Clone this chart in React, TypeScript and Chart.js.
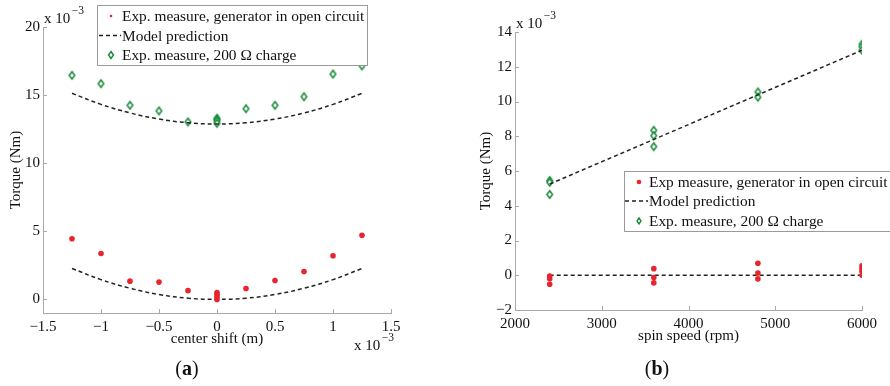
import React, { useEffect, useRef } from "react";
import { Chart, registerables } from "chart.js";

Chart.register(...registerables);

const FONT = '"Liberation Serif", "Times New Roman", serif';
const RED = "#e8242c";
const GREEN = "#168a38";
const AXIS = "#a9a9a9";
const TEXT = "#111111";
const MODEL = "#222222";

// Panel (a): torque vs. center shift, both axes in units of 1e-3
const shiftOpenX = [-1.25, -1, -0.75, -0.5, -0.25, 0, 0, 0, 0, 0.25, 0.5, 0.75, 1, 1.25];
const shiftOpenTorque = [4.45, 3.37, 1.34, 1.27, 0.64, 0.5, 0.35, 0.2, 0.0, 0.8, 1.39, 2.05, 3.2, 4.71];
const shiftLoadX = [-1.25, -1, -0.75, -0.5, -0.25, 0, 0, 0, 0, 0.25, 0.5, 0.75, 1, 1.25];
const shiftLoadTorque = [16.45, 15.84, 14.25, 13.84, 13.03, 13.3, 13.2, 13.1, 12.93, 14.0, 14.25, 14.88, 16.54, 17.15];
const shiftModelX = [-1.25, -1, -0.75, -0.5, -0.25, 0, 0.25, 0.5, 0.75, 1, 1.25];
const shiftModelOpen = [2.27, 1.45, 0.82, 0.36, 0.09, 0, 0.09, 0.36, 0.82, 1.45, 2.27];
const shiftModelLoad = [15.13, 14.32, 13.69, 13.24, 12.97, 12.88, 12.97, 13.24, 13.69, 14.32, 15.13];
const shiftTicksX = [-1.5, -1, -0.5, 0, 0.5, 1, 1.5];
const shiftTicksY = [0, 5, 10, 15, 20];

// Panel (b): torque vs. spin speed, torque in units of 1e-3
const speedOpenX = [2400, 2400, 2400, 3600, 3600, 3600, 4800, 4800, 4800, 6000, 6000, 6000, 6000];
const speedOpenTorque = [-0.05, -0.2, -0.52, 0.38, -0.13, -0.44, 0.69, 0.13, -0.21, 0.54, 0.38, 0.23, 0.0];
const speedLoadX = [2400, 2400, 2400, 3600, 3600, 3600, 4800, 4800, 6000, 6000, 6000];
const speedLoadTorque = [5.45, 5.35, 4.65, 8.34, 8.03, 7.4, 10.55, 10.25, 13.3, 13.15, 12.95];
const speedModelX = [2400, 6000];
const speedModelOpen = [0, 0];
const speedModelLoad = [5.25, 12.95];
const speedTicksX = [2000, 3000, 4000, 5000, 6000];
const speedTicksY = [-2, 0, 2, 4, 6, 8, 10, 12, 14];

const legendTextA = [
  "Exp. measure, generator in open circuit",
  "Model prediction",
  "Exp. measure, 200 \u03a9 charge",
];
const legendTextB = [
  "Exp measure, generator in open circuit",
  "Model prediction",
  "Exp. measure, 200 \u03a9 charge",
];

const pts = (xs: number[], ys: number[]) => xs.map((x, i) => ({ x, y: ys[i] }));
const minus = (v: number | string) => String(v).replace("-", "\u2212");

function drawDiamond(ctx: CanvasRenderingContext2D, x: number, y: number, w: number, h: number, lw: number) {
  ctx.save();
  ctx.beginPath();
  ctx.moveTo(x, y - h / 2);
  ctx.lineTo(x + w / 2, y);
  ctx.lineTo(x, y + h / 2);
  ctx.lineTo(x - w / 2, y);
  ctx.closePath();
  ctx.fillStyle = "#fff";
  ctx.fill();
  ctx.lineWidth = lw;
  ctx.strokeStyle = GREEN;
  ctx.stroke();
  ctx.restore();
}

function diamondImage(w: number, h: number, lw: number) {
  const c = document.createElement("canvas");
  c.width = Math.ceil(w + lw * 2 + 2);
  c.height = Math.ceil(h + lw * 2 + 2);
  drawDiamond(c.getContext("2d")!, c.width / 2, c.height / 2, w, h, lw);
  return c;
}

type Decor = {
  legend: { x: number; y: number; w: number; h: number; rows: number[]; markX: number; textX: number; dash: [number, number]; dot: number; dia: [number, number]; text: string[]; font: number };
  expTop: [number, number];
  expBottom?: [number, number];
  panel: [string, number, number];
};

function decorPlugin(d: Decor) {
  return {
    id: "decor",
    afterDraw(chart: any) {
      const ctx: CanvasRenderingContext2D = chart.ctx;
      const { left, bottom } = chart.chartArea;
      const xs = chart.scales.x;
      const ys = chart.scales.y;
      ctx.save();
      // inward tick marks
      ctx.strokeStyle = AXIS;
      ctx.lineWidth = 1;
      ctx.beginPath();
      xs.ticks.forEach((t: any) => {
        const px = Math.round(xs.getPixelForValue(t.value)) + 0.5;
        if (px - left < 2) return;
        ctx.moveTo(px, bottom);
        ctx.lineTo(px, bottom - 4);
      });
      ys.ticks.forEach((t: any) => {
        const py = Math.round(ys.getPixelForValue(t.value)) + 0.5;
        if (bottom - py < 2) return;
        ctx.moveTo(left, py);
        ctx.lineTo(left + 4, py);
      });
      ctx.stroke();

      // scale exponent labels
      const exp = (x: number, y: number) => {
        ctx.fillStyle = TEXT;
        ctx.textAlign = "left";
        ctx.textBaseline = "middle";
        ctx.font = `15px ${FONT}`;
        ctx.fillText("x 10", x, y);
        const w = ctx.measureText("x 10").width;
        ctx.font = `11.5px ${FONT}`;
        ctx.fillText("\u22123", x + w + 1.5, y - 8);
      };
      exp(d.expTop[0], d.expTop[1]);
      if (d.expBottom) exp(d.expBottom[0], d.expBottom[1]);

      // legend box
      const L = d.legend;
      ctx.fillStyle = "#fff";
      ctx.fillRect(L.x, L.y, L.w, L.h);
      ctx.strokeStyle = "#9a9a9a";
      ctx.lineWidth = 1;
      ctx.strokeRect(L.x + 0.5, L.y + 0.5, L.w, L.h);
      ctx.fillStyle = RED;
      ctx.beginPath();
      ctx.arc(L.markX, L.rows[0], L.dot, 0, Math.PI * 2);
      ctx.fill();
      ctx.strokeStyle = MODEL;
      ctx.lineWidth = 1.4;
      ctx.setLineDash([4, 3]);
      ctx.beginPath();
      ctx.moveTo(L.dash[0], L.rows[1]);
      ctx.lineTo(L.dash[1], L.rows[1]);
      ctx.stroke();
      ctx.setLineDash([]);
      drawDiamond(ctx, L.markX, L.rows[2], L.dia[0], L.dia[1], 1.4);
      ctx.fillStyle = TEXT;
      ctx.font = `${L.font}px ${FONT}`;
      ctx.textAlign = "left";
      ctx.textBaseline = "middle";
      L.text.forEach((s, i) => ctx.fillText(s, L.textX, L.rows[i] + 1));

      // panel label: "(", bold letter, ")"
      const [letter, cx, cy] = d.panel;
      ctx.font = `20px ${FONT}`;
      const wp = ctx.measureText("(").width;
      ctx.font = `bold 20px ${FONT}`;
      const wl = ctx.measureText(letter).width;
      const x0 = cx - (wp * 2 + wl) / 2;
      ctx.font = `20px ${FONT}`;
      ctx.fillText("(", x0, cy);
      ctx.font = `bold 20px ${FONT}`;
      ctx.fillText(letter, x0 + wp, cy);
      ctx.font = `20px ${FONT}`;
      ctx.fillText(")", x0 + wp + wl, cy);
      ctx.restore();
    },
  };
}

type PanelCfg = {
  open: { x: number; y: number }[];
  load: { x: number; y: number }[];
  modelOpen: { x: number; y: number }[];
  modelLoad: { x: number; y: number }[];
  tension: number;
  xRange: [number, number];
  yRange: [number, number];
  xTicks: number[];
  yTicks: number[];
  xTitle: string;
  area: { left: number; right: number; top: number; bottom: number };
  yTitlePad: number;
  xTitlePad: number;
  decor: Decor;
};

const W = 445;
const H = 386;

function makeChart(canvas: HTMLCanvasElement, c: PanelCfg) {
  const diamond = diamondImage(5.5, 7.5, 1.5);
  const tickFont = { family: FONT, size: 15 };
  const modelStyle = {
    showLine: true,
    pointRadius: 0,
    borderColor: MODEL,
    borderWidth: 1.5,
    borderDash: [4, 3],
    tension: c.tension,
    fill: false,
  };
  return new Chart(canvas, {
    type: "scatter",
    data: {
      datasets: [
        { data: c.open, pointStyle: "circle", pointRadius: 2.8, backgroundColor: RED, borderWidth: 0 },
        { ...modelStyle, data: c.modelOpen },
        { ...modelStyle, data: c.modelLoad },
        { data: c.load, pointStyle: diamond as any, pointRadius: 4, borderWidth: 0 },
      ] as any,
    },
    options: {
      responsive: false,
      animation: false,
      events: [],
      layout: { padding: { left: 0, top: c.area.top, right: W - c.area.right, bottom: 0 } },
      plugins: { legend: { display: false }, tooltip: { enabled: false } },
      scales: {
        x: {
          type: "linear",
          min: c.xRange[0],
          max: c.xRange[1],
          afterBuildTicks: (s: any) => {
            s.ticks = c.xTicks.map((v) => ({ value: v }));
          },
          afterFit: (s: any) => {
            s.height = H - c.area.bottom;
          },
          grid: { display: false, drawTicks: false },
          border: { display: true, color: AXIS, width: 1 },
          ticks: { padding: 5, color: TEXT, font: tickFont, maxRotation: 0, autoSkip: false, callback: (v: any) => minus(v) },
          title: { display: true, text: c.xTitle, color: TEXT, font: tickFont, padding: { top: 0, bottom: c.xTitlePad } },
        },
        y: {
          type: "linear",
          min: c.yRange[0],
          max: c.yRange[1],
          afterBuildTicks: (s: any) => {
            s.ticks = c.yTicks.map((v) => ({ value: v }));
          },
          afterFit: (s: any) => {
            s.width = c.area.left;
          },
          grid: { display: false, drawTicks: false },
          border: { display: true, color: AXIS, width: 1 },
          ticks: { padding: 3, color: TEXT, font: tickFont, autoSkip: false, callback: (v: any) => minus(v) },
          title: { display: true, text: "Torque (Nm)", color: TEXT, font: tickFont, padding: { top: c.yTitlePad, bottom: 0 } },
        },
      },
    } as any,
    plugins: [decorPlugin(c.decor)],
  });
}

const panelA: PanelCfg = {
  open: pts(shiftOpenX, shiftOpenTorque),
  load: pts(shiftLoadX, shiftLoadTorque),
  modelOpen: pts(shiftModelX, shiftModelOpen),
  modelLoad: pts(shiftModelX, shiftModelLoad),
  tension: 0.4,
  xRange: [-1.5, 1.5],
  yRange: [-1, 20],
  xTicks: shiftTicksX,
  yTicks: shiftTicksY,
  xTitle: "center shift (m)",
  area: { left: 43, right: 391, top: 27, bottom: 313 },
  yTitlePad: 7,
  xTitlePad: 38,
  decor: {
    legend: { x: 97, y: 5, w: 270, h: 60, rows: [16, 35.5, 55], markX: 111, textX: 122, dash: [99, 121], dot: 1.3, dia: [5, 7], text: legendTextA, font: 15.4 },
    expTop: [44, 19],
    expBottom: [354, 346],
    panel: ["a", 187, 370],
  },
};

const panelB: PanelCfg = {
  open: pts(speedOpenX, speedOpenTorque),
  load: pts(speedLoadX, speedLoadTorque),
  modelOpen: pts(speedModelX, speedModelOpen),
  modelLoad: pts(speedModelX, speedModelLoad),
  tension: 0,
  xRange: [2000, 6000],
  yRange: [-2, 14],
  xTicks: speedTicksX,
  yTicks: speedTicksY,
  xTitle: "spin speed (rpm)",
  area: { left: 70, right: 417, top: 32, bottom: 310 },
  yTitlePad: 32,
  xTitlePad: 41,
  decor: {
    legend: { x: 179, y: 171, w: 280, h: 60, rows: [182, 201, 221], markX: 194, textX: 204, dash: [180, 203], dot: 2.3, dia: [4, 6], text: legendTextB, font: 15.4 },
    expTop: [71, 24],
    panel: ["b", 212, 370],
  },
};

export default function App() {
  const refA = useRef<HTMLCanvasElement>(null);
  const refB = useRef<HTMLCanvasElement>(null);
  useEffect(() => {
    const a = makeChart(refA.current!, panelA);
    const b = makeChart(refB.current!, panelB);
    return () => {
      a.destroy();
      b.destroy();
    };
  }, []);
  return (
    <div style={{ position: "fixed", left: 0, top: 0, width: 890, height: 386, background: "#fff" }}>
      <canvas ref={refA} width={W} height={H} style={{ position: "absolute", left: 0, top: 0 }} />
      <canvas ref={refB} width={W} height={H} style={{ position: "absolute", left: W, top: 0 }} />
    </div>
  );
}
